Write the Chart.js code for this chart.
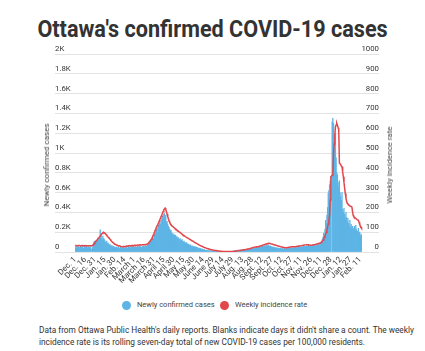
<!DOCTYPE html>
<html><head><meta charset="utf-8">
<script src="https://cdn.jsdelivr.net/npm/chart.js@4"></script>
<style>
html,body{margin:0;padding:0;background:#fff;}
body{width:425px;height:351px;position:relative;overflow:hidden;font-family:Roboto,"Noto Sans",sans-serif;color:#333;}
#title{position:absolute;left:0;top:16.5px;width:425px;text-align:center;font-weight:700;font-size:24px;line-height:24px;color:#333;white-space:nowrap;transform:scaleX(0.9);transform-origin:213px 50%;}
#wrap{position:absolute;left:0;top:40px;width:425px;height:250px;}
.ytitle{position:absolute;font-size:8px;line-height:10px;color:#444;white-space:nowrap;transform:translate(-50%,-50%) rotate(-90deg);}
.lg-dot{position:absolute;width:9px;height:9px;border-radius:50%;top:300.5px;}
.lg-txt{position:absolute;top:300px;font-size:7.5px;line-height:10px;color:#444;white-space:nowrap;}
#note{position:absolute;left:39px;top:324px;font-size:8.3px;line-height:12px;color:#333;white-space:nowrap;}
</style>
</head><body>
<div id="title">Ottawa's confirmed COVID-19 cases</div>
<div id="wrap"><canvas id="c" width="425" height="250"></canvas></div>
<div class="ytitle" style="left:46.5px;top:165px;">Newly confirmed cases</div>
<div class="ytitle" style="left:390px;top:165px;">Weekly incidence rate</div>
<div class="lg-dot" style="left:122px;background:#5db4e5;"></div>
<div class="lg-txt" style="left:137px;">Newly confirmed cases</div>
<div class="lg-dot" style="left:220px;background:#e1474d;"></div>
<div class="lg-txt" style="left:235px;">Weekly incidence rate</div>
<div id="note">Data from Ottawa Public Health's daily reports. Blanks indicate days it didn't share a count. The weekly<br>incidence rate is its rolling seven-day total of new COVID-19 cases per 100,000 residents.</div>
<script>
// ---- categories (daily dates, Dec 1 2020 – Feb 13 2022; two days not reported as rows) ----
const monthNames = ['Jan.','Feb.','March','April','May','June','July','Aug.','Sept.','Oct.','Nov.','Dec.'];
const firstDay = '2020-12-01';
const lastDay = '2022-02-13';
const missingRows = ['2021-12-25','2021-12-26'];
const tickLabels = ['Dec. 1','Dec. 16','Dec. 31','Jan. 15','Jan. 30','Feb. 14','March 1','March 16','March 31','April 15','April 30','May 15','May 30','June 14','June 29','July 14','July 29','Aug. 13','Aug. 28','Sept. 12','Sept. 27','Oct. 12','Oct. 27','Nov. 11','Nov. 26','Dec. 11','Dec. 28','Jan. 12','Jan. 27','Feb. 11'];
const leftTickLabels = ['0','0.2K','0.4K','0.6K','0.8K','1K','1.2K','1.4K','1.6K','1.8K','2K'];
const rightTickLabels = ['0','100','200','300','400','500','600','700','800','900','1000'];

// ---- newly confirmed cases (daily) ----
const casesDec2020 = [45,60,38,52,41,55,48,30,62,50,47,58,35,40,65,52,44,60,49,38,55,47,42,53,null,30,45,75,95,104,110];
const casesJan2021 = [85,100,110,125,140,105,130,225,165,140,120,160,135,130,115,100,95,110,85,90,80,70,75,60,62,66,55,50,58,45,48];
const casesFeb2021 = [45,50,42,38,55,40,35,48,44,30,41,39,47,36,33,45,50,42,38,55,48,52,40,58,45,50,62,55];
const casesMar2021 = [45,50,55,48,42,58,52,46,55,60,50,45,52,58,62,50,56,65,60,58,66,75,80,90,100,115,110,125,140,135,160];
const casesApr2021 = [170,190,210,230,200,250,270,290,310,280,300,340,360,330,380,390,350,370,300,310,280,260,250,230,215,220,195,180,185,165];
const casesMay2021 = [175,160,170,150,155,140,145,130,125,135,120,115,125,105,100,110,95,92,88,96,82,78,80,70,66,72,60,58,62,55,50];
const casesJun2021 = [55,52,48,50,45,42,38,40,35,36,30,28,30,25,22,24,20,18,16,18,14,12,13,12,10,11,9,10,8,9];
const casesJul2021 = [8,6,5,7,4,6,5,3,6,4,5,7,3,4,6,5,8,4,6,5,5,6,4,6,7,5,6,8,6,7,9];
const casesAug2021 = [10,14,12,9,15,13,18,16,12,20,17,22,19,15,24,21,26,23,18,28,25,30,27,22,32,29,35,31,26,38,34];
const casesSep2021 = [40,36,45,42,38,50,46,55,48,44,58,52,60,56,48,62,58,66,70,60,72,65,55,62,58,50,54,48,45,50];
const casesOct2021 = [46,40,44,38,42,35,40,36,32,38,34,30,36,33,28,35,31,29,34,30,36,32,38,35,40,37,42,39,44,41,38];
const casesNov2021 = [42,45,40,48,44,50,46,52,48,55,50,45,53,58,49,60,55,52,62,58,54,65,60,57,68,63,59,70,66,72];
const casesDec2021 = [60,65,58,70,62,75,68,80,85,95,100,110,130,150,190,175,230,320,290,370,450,595,620,680,720,760,null,1316,1350];
const casesJan2022 = [1300,1100,1030,1200,950,800,780,700,650,720,600,560,520,600,430,400,440,380,340,400,350,310,340,290,270,320,250,280,240,260,220];
const casesFeb2022 = [240,260,220,270,230,200,210,240,180,200,160,180,170];

// ---- weekly incidence rate (per 100,000) ----
const rateDec2020 = [32,33,32,31,32,33,33,32,31,32,32,33,32,31,32,33,32,32,31,32,32,31,32,32,31,31,32,35,39,43,48];
const rateJan2021 = [53,57,61,65,69,72,75,81,86,90,94,97,100,98,95,92,88,84,80,76,72,68,64,60,56,52,49,46,43,41,39];
const rateFeb2021 = [37,35,34,32,31,31,30,29,28,28,27,27,28,27,28,29,30,29,30,31,31,32,31,32,33,33,32,33];
const rateMar2021 = [33,34,34,33,34,35,35,34,35,36,36,35,36,37,37,36,37,38,38,39,40,43,47,51,55,60,65,70,78,86,94];
const rateApr2021 = [102,111,119,127,134,141,148,156,164,172,180,188,196,204,212,218,222,215,205,192,180,168,158,150,143,138,134,131,128,125];
const rateMay2021 = [122,118,116,114,110,107,106,103,101,98,96,92,90,86,85,82,80,78,75,74,71,69,68,65,63,62,59,57,56,53,51];
const rateJun2021 = [49,47,46,43,41,40,37,35,34,32,30,29,28,26,24,23,22,21,19,18,17,16,15,14,13,12,11,11,10,9];
const rateJul2021 = [8,8,7,7,6,6,5,5,5,4,4,4,4,3,3,3,3,3,3,3,3,3,3,3,3,3,3,3,3,4,4];
const rateAug2021 = [4,4,5,5,6,6,7,7,8,8,9,9,10,10,11,11,12,13,13,14,15,15,16,17,18,19,20,21,22,23,24];
const rateSep2021 = [24,25,25,26,26,27,28,29,30,31,32,33,35,36,37,38,39,40,41,42,43,44,44,43,42,41,40,39,38,37];
const rateOct2021 = [36,35,34,33,32,31,30,29,28,27,26,25,25,24,23,23,22,22,22,22,23,23,24,24,25,25,26,26,27,27,27];
const rateNov2021 = [27,27,28,28,29,29,30,30,31,31,32,33,33,34,35,35,36,36,37,37,36,36,35,35,34,34,34,35,36,37];
const rateDec2021 = [37,38,39,40,41,42,43,44,45,46,48,51,55,60,66,73,81,90,100,112,126,142,162,185,263,380,384,387,389];
const rateJan2022 = [498,545,590,633,642,650,640,628,616,450,446,440,435,431,405,380,352,322,296,272,256,246,242,238,235,233,231,230,229,205,185];
const rateFeb2022 = [178,175,172,170,167,164,162,160,150,140,132,126,120];

const cases = [].concat(casesDec2020,casesJan2021,casesFeb2021,casesMar2021,casesApr2021,casesMay2021,casesJun2021,casesJul2021,casesAug2021,casesSep2021,casesOct2021,casesNov2021,casesDec2021,casesJan2022,casesFeb2022);
const rate = [].concat(rateDec2020,rateJan2021,rateFeb2021,rateMar2021,rateApr2021,rateMay2021,rateJun2021,rateJul2021,rateAug2021,rateSep2021,rateOct2021,rateNov2021,rateDec2021,rateJan2022,rateFeb2022);

const categories = [];
(function(){
  const d = new Date(firstDay + 'T00:00:00Z');
  const end = new Date(lastDay + 'T00:00:00Z');
  while (d <= end) {
    const iso = d.toISOString().slice(0,10);
    if (!missingRows.includes(iso)) categories.push(monthNames[d.getUTCMonth()] + ' ' + d.getUTCDate() + ', ' + d.getUTCFullYear());
    d.setUTCDate(d.getUTCDate() + 1);
  }
})();

const BLUE = '#5db4e5';
const RED = '#e1474d';
const GRID = '#e3e3e3';
const TICK = '#333';
const YFONT = {family: 'Roboto', size: 7.8};
const XFONT = {family: 'Roboto', size: 8};

new Chart(document.getElementById('c'), {
  data: {
    labels: categories,
    datasets: [
      {type:'line', label:'Weekly incidence rate', data: rate, yAxisID:'y1', borderColor: RED, borderWidth: 1.5, pointRadius: 0, tension: 0, spanGaps: true, order: 0},
      {type:'bar', label:'Newly confirmed cases', data: cases, yAxisID:'y', backgroundColor: BLUE, borderWidth: 0, barPercentage: 1, categoryPercentage: 1, order: 1}
    ]
  },
  options: {
    responsive: false,
    animation: false,
    layout: {padding: {left: 55, right: 46, top: 14, bottom: 0}},
    plugins: {legend: {display: false}, tooltip: {enabled: false}},
    scales: {
      x: {
        type: 'category',
        grid: {display: false, drawTicks: false},
        border: {display: false},
        ticks: {autoSkip: false, maxRotation: 45, minRotation: 45, padding: 3, font: XFONT, color: TICK,
          callback: (v, i) => (i % 15 === 0 ? tickLabels[i / 15] : null)},
        afterFit: s => { s.height = 38; }
      },
      y: {
        position: 'left', min: 0, max: 2000,
        grid: {color: GRID, lineWidth: 1, drawTicks: true, tickLength: 20},
        border: {display: false},
        ticks: {stepSize: 200, crossAlign: 'far', labelOffset: -5, padding: 0, font: YFONT, color: TICK,
          callback: (v, i) => leftTickLabels[i]},
        afterFit: s => { s.width = 20; }
      },
      y1: {
        position: 'right', min: 0, max: 1000,
        grid: {color: GRID, lineWidth: 1, drawOnChartArea: false, drawTicks: true, tickLength: 17},
        border: {display: false},
        ticks: {stepSize: 100, crossAlign: 'far', labelOffset: -5, padding: 0, font: YFONT, color: TICK,
          callback: (v, i) => rightTickLabels[i]},
        afterFit: s => { s.width = 17; }
      }
    }
  }
});
</script>
</body></html>
